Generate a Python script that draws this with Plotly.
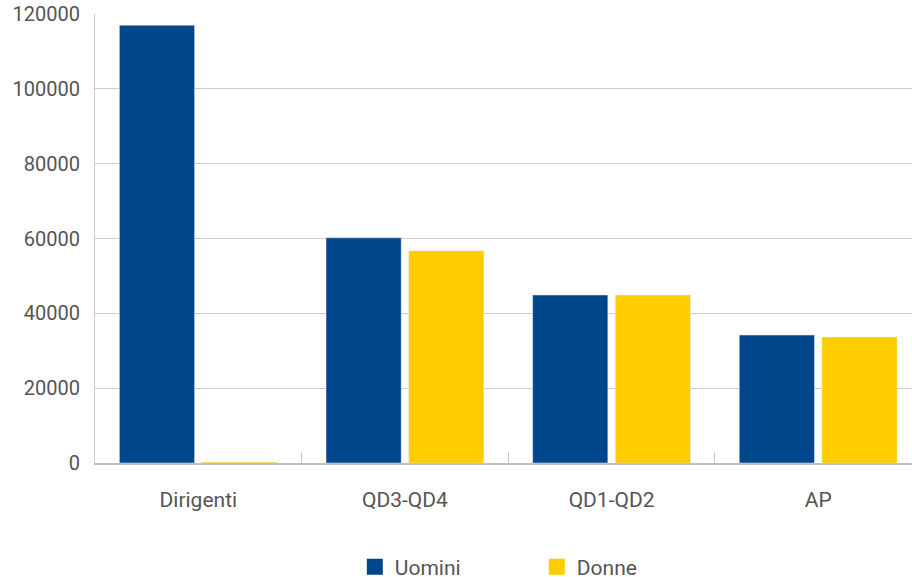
import plotly.graph_objects as go

categories = ["Dirigenti", "QD3-QD4", "QD1-QD2", "AP"]
uomini = [117000, 60200, 44900, 34200]
donne = [250, 56700, 44900, 33700]
y_ticks = [0, 20000, 40000, 60000, 80000, 100000, 120000]

BLUE = "#00468b"
YELLOW = "#ffcc00"
FONT = "Roboto"
TXT = "#555555"

fig = go.Figure()
fig.add_trace(go.Bar(x=categories, y=uomini, name="Uomini", marker_color=BLUE, showlegend=False))
fig.add_trace(go.Bar(x=categories, y=donne, name="Donne", marker_color=YELLOW, showlegend=False))
# legend entries with larger square symbols
fig.add_trace(go.Scatter(x=[None], y=[None], mode="markers", name="Uomini",
                         marker=dict(symbol="square", size=18, color=BLUE)))
fig.add_trace(go.Scatter(x=[None], y=[None], mode="markers", name="Donne",
                         marker=dict(symbol="square", size=18, color=YELLOW)))

fig.update_layout(
    width=912, height=577,
    margin=dict(l=95, r=0, t=14, b=114, autoexpand=False),
    paper_bgcolor="white", plot_bgcolor="white",
    font=dict(family=FONT, size=20, color=TXT),
    barmode="group", bargap=0.2, bargroupgap=0.09,
    legend=dict(orientation="h", x=0.318, xanchor="left", y=-0.232, yanchor="middle",
                entrywidth=137, font=dict(size=21, color=TXT), itemclick=False),
)
fig.update_xaxes(
    type="category", range=[-0.5, 3.454], automargin=False,
    showline=True, linecolor="#c0c0c0", linewidth=2,
    ticks="inside", tickson="boundaries", ticklen=11, tickcolor="#c8c8c8",
    ticklabelstandoff=17, showgrid=False, tickfont=dict(size=21),
)
fig.update_yaxes(
    range=[0, 120000], tickvals=y_ticks, ticktext=[str(v) for v in y_ticks],
    automargin=False, ticklabeloverflow="allow",
    showgrid=True, gridcolor="#cccccc", gridwidth=1,
    showline=True, linecolor="#cccccc", linewidth=1,
    ticks="", ticklabelstandoff=10, zeroline=False, tickfont=dict(size=20),
)

fig.write_html("out.html", config={"displayModeBar": False},
               post_script="document.body.style.margin='0';")
